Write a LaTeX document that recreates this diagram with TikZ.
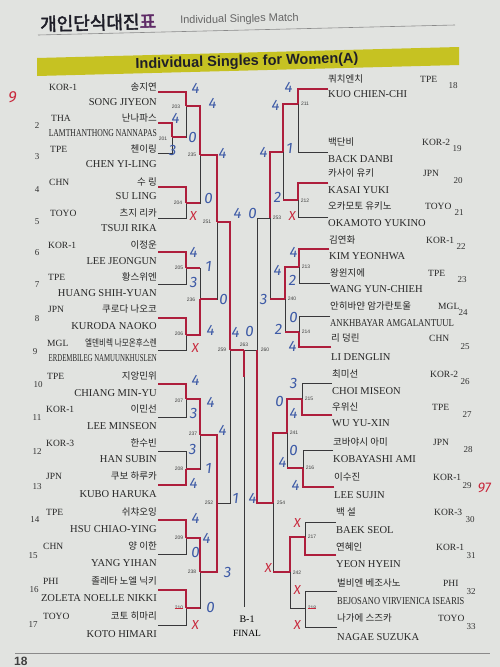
\documentclass[tikz,border=0pt]{standalone}
\usepackage{fontspec}
\setmainfont{Liberation Serif}
\newfontfamily\kr{Noto Sans CJK KR}
\newfontfamily\krb[FakeBold=2.5]{Noto Sans CJK KR}
\newfontfamily\hv{Liberation Sans}
\newfontfamily\hand[FakeSlant=0.12]{Fira Sans}
\definecolor{paper}{HTML}{E1E3E0}
\definecolor{lineblk}{HTML}{38383A}
\definecolor{redline}{HTML}{AE1E3C}
\definecolor{penblue}{HTML}{3D5AA6}
\definecolor{penred}{HTML}{C8283C}
\definecolor{labgray}{HTML}{404040}
\definecolor{barcol}{HTML}{C6C222}
\definecolor{titlecol}{HTML}{1E1E28}
\definecolor{titlepurple}{HTML}{5E2A66}
\definecolor{rulegray}{HTML}{8A8A8A}
\tikzset{
  bl/.style={draw=lineblk, line width=0.7pt},
  rd/.style={draw=redline, line width=1.7pt},
  kname/.style={font=\kr\fontsize{9.5}{10}\selectfont, inner sep=0, text=black!85},
  ename/.style={font=\fontsize{10.5}{11}\selectfont, inner sep=0, text=black!85},
  ctry/.style={font=\fontsize{9.5}{10}\selectfont, inner sep=0, anchor=west, text=black!85},
  seed/.style={font=\fontsize{9}{10}\selectfont, inner sep=0, text=black!80},
  mno/.style={font=\hv\fontsize{5}{5}\selectfont, inner sep=0, text=labgray},
  hw/.style={font=\hand\fontsize{15}{15}\selectfont, text=penblue, inner sep=0},
  hx/.style={font=\hand\fontsize{13}{13}\selectfont, text=penred, inner sep=0},
}
\begin{document}
\begin{tikzpicture}[x=1pt,y=-1pt]
\useasboundingbox (0,0) rectangle (500,667);
\clip (0,0) rectangle (500,667);
\fill[paper] (0,0) rectangle (500,667);

% ---------- header ----------
\node[font=\krb\fontsize{18}{18}\selectfont, text=titlecol, anchor=west, inner sep=0, rotate=1.4] (hk) at (40,24) {개인단식대진\textcolor{titlepurple}{표}};
\node[font=\hv\fontsize{11}{11}\selectfont, text=black!60, anchor=west, inner sep=0, rotate=1.4] (he) at (180,21) {Individual Singles Match};
\draw[rulegray, line width=0.6pt] (38,35) -- (455,25);
\fill[barcol] (37,58) -- (459,47) -- (459,65) -- (37,76) -- cycle;
\node[font=\hv\bfseries\fontsize{14.5}{15}\selectfont, text=titlecol, rotate=1.5, inner sep=0] (tt) at (247,62) {Individual Singles for Women(A)};

% ---------- left players ----------
\foreach \i/\ky/\ey/\ly/\xc/\co/\kn/\engn/\ks/\es in {
1/87/102/92/49/KOR-1/송지연/SONG JIYEON/1/1,
2/118/133/123/51/THA/난나파스/LAMTHANTHONG NANNAPAS/1/.73,
3/149/164/153/50/TPE/첸이링/CHEN YI-LING/1/1,
4/182/196/187/49/CHN/수 링/SU LING/1/1,
5/213/228/218/50/TOYO/츠지 리카/TSUJI RIKA/1/1,
6/245/261/252/48/KOR-1/이정운/LEE JEONGUN/1/1,
7/277/293/284/48/TPE/황스위엔/HUANG SHIH-YUAN/1/1,
8/309/326/318/48/JPN/쿠로다 나오코/KURODA NAOKO/1/1,
9/343/358/350/47/MGL/엘덴비렉 나모온후스렌/ERDEMBILEG NAMUUNKHUSLEN/.8/.65,
10/376/393/384/47/TPE/지앙민위/CHIANG MIN-YU/1/1,
11/409/426/417/46/KOR-1/이민선/LEE MINSEON/1/1,
12/443/459/451/46/KOR-3/한수빈/HAN SUBIN/1/1,
13/476/494/485/46/JPN/쿠보 하루카/KUBO HARUKA/1/1,
14/512/529/520/46/TPE/쉬챠오잉/HSU CHIAO-YING/1/1,
15/546/563/554/43/CHN/양 이한/YANG YIHAN/1/1,
16/581/598/590/43/PHI/졸레타 노엘 닉키/ZOLETA NOELLE NIKKI/1/1,
17/616/634/625/43/TOYO/코토 히마리/KOTO HIMARI/1/1}{
  \node[kname, anchor=east, xscale=\ks, transform shape] (k\i) at (157,\ky) {\kn};
  \node[ename, anchor=east, xscale=\es, transform shape] (e\i) at (157,\ey) {\engn};
  \node[ctry] (c\i) at (\xc,\ky) {\co};
  \coordinate (p\i) at (158,\ly);
}
\foreach \i/\x/\y in {2/37/126,3/37/157,4/37/190,5/37/222,6/37/253,7/37/285,8/37/319,9/35/352,10/38/385,11/37/418,12/37/452,13/37/487,14/35/520,15/33/556,16/34/590,17/33/625}
  \node[seed] (s\i) at (\x,\y) {\i};

% ---------- right players ----------
\foreach \i/\ky/\ey/\ly/\xr/\xc/\co/\kn/\engn/\es in {
18/79/94/89/328/420/TPE/쿼치엔치/KUO CHIEN-CHI/1,
19/142/159/152/328/422/KOR-2/백단비/BACK DANBI/1,
20/173/190/183/328/423/JPN/카사이 유키/KASAI YUKI/1,
21/206/223/217/328/425/TOYO/오카모토 유키노/OKAMOTO YUKINO/1,
22/240/256/249/329/426/KOR-1/김연화/KIM YEONHWA/1,
23/273/289/283/330/428/TPE/왕윈지에/WANG YUN-CHIEH/1,
24/306/323/316/330/438/MGL/안히바얀 암가란토울/ANKHBAYAR AMGALANTUUL/.83,
25/338/357/347/331/429/CHN/리 덩린/LI DENGLIN/1,
26/374/391/383/332/430/KOR-2/최미선/CHOI MISEON/1,
27/407/423/415/332/432/TPE/우위신/WU YU-XIN/1,
28/442/459/450/333/433/JPN/코바야시 아미/KOBAYASHI AMI/1,
29/477/495/487/334/433/KOR-1/이수진/LEE SUJIN/1,
30/512/530/522/336/434/KOR-3/백 설/BAEK SEOL/1,
31/547/564/555/336/436/KOR-1/연혜인/YEON HYEIN/1,
32/583/601/591/337/443/PHI/벌비엔 베조사노/BEJOSANO VIRVIENICA ISEARIS/.8,
33/618/637/627/337/438/TOYO/나가에 스즈카/NAGAE SUZUKA/1}{
  \node[kname, anchor=west] (k\i) at (\xr,\ky) {\kn};
  \node[ename, anchor=west, xscale=\es, transform shape] (e\i) at (\xr,\ey) {\engn};
  \node[ctry] (c\i) at (\xc,\ky) {\co};
  \coordinate (p\i) at (\xr,\ly);
}
\foreach \i/\x/\y in {18/453/86,19/457/149,20/458/181,21/459/213,22/461/247,23/462/280,24/463/313,25/465/347,26/465/382,27/467/415,28/468/450,29/467/486,30/470/520,31/471/556,32/471/592,33/471/627}
  \node[seed] (s\i) at (\x,\y) {\i};

% ---------- match junctions ----------
\foreach \n/\x/\y in {201/172/137,203/186/106,204/186/203,205/186/268,206/186/335,207/186/399,208/186/469,209/186/538,210/186/608,
  235/200/155,236/200/299,237/200/435,238/200/572,251/217/222,252/217/503,259/230/350,263/244/350,
  211/298/104,212/298/200,213/299/267,214/299/332,215/302/399,216/303/468,217/305/537,218/305/608,
  239/283/152,240/285/299,241/287/433,242/290/572,253/270/218,254/273/503,260/257/350}
  \coordinate (m\n) at (\x,\y);
\coordinate (fin) at (244,607);
\coordinate (fred) at (244,377);

% black bracket
\foreach \c/\m in {p1/m203,p2/m201,p3/m201,p4/m204,p5/m204,p6/m205,p7/m205,p8/m206,p9/m206,
  p10/m207,p11/m207,p12/m208,p13/m208,p14/m209,p15/m209,p16/m210,p17/m210,
  m201/m203,m203/m235,m204/m235,m205/m236,m206/m236,m207/m237,m208/m237,m209/m238,m210/m238,
  m235/m251,m236/m251,m237/m252,m238/m252,m251/m259,m252/m259,m259/m263,
  p18/m211,p19/m211,p20/m212,p21/m212,p22/m213,p23/m213,p24/m214,p25/m214,
  p26/m215,p27/m215,p28/m216,p29/m216,p30/m217,p31/m217,p32/m218,p33/m218,
  m211/m239,m212/m239,m213/m240,m214/m240,m215/m241,m216/m241,m217/m242,m218/m242,
  m239/m253,m240/m253,m241/m254,m242/m254,m253/m260,m254/m260,m260/m263}
  \draw[bl] (\c) -| (\m);
\draw[bl] (m263) -- (fin);

% red winner paths (full arms)
\foreach \c/\m in {p1/m203,m203/m235,m235/m251,m251/m259,m259/m263,
  p2/m201,p4/m204,p6/m205,p8/m206,m206/m236,p10/m207,m207/m237,m237/m252,
  p13/m208,p14/m209,m209/m238,m238/m252,p16/m210,
  p18/m211,m211/m239,m239/m253,p20/m212,p22/m213,m213/m240,p25/m214,
  p27/m215,m215/m241,m241/m254,m254/m260,p29/m216,p31/m217,m217/m242}
  \draw[rd] (\c) -| (\m);
% red horizontal stubs only
\foreach \c/\m in {m201/m203,m204/m235,m205/m236,m236/m251,m208/m237,m210/m238,
  m212/m239,m240/m253,m214/m240,m216/m241,m242/m254}
  \draw[rd] (\c) -- (\c -| \m);
\draw[rd] (m263) -- (fred);

% match numbers
\foreach \t/\x/\y in {203/176/107,201/163/139,204/178/203,235/192/155,251/207/222,205/179/268,236/191/300,206/179/334,
  259/222/350,207/179/401,237/193/434,208/179/469,252/209/503,209/179/538,238/192/572,210/179/608,
  211/305/104,212/305/201,253/277/218,213/306/267,240/292/299,214/306/332,263/244/345,260/265/350,
  215/309/399,241/294/433,216/310/468,254/281/503,217/312/537,242/297/573,218/312/608}
  \node[mno] (n\t) at (\x,\y) {\t};
\draw[penred, line width=0.6pt] (n210.west) -- (n210.east);
\draw[penred, line width=0.6pt] (n218.west) -- (n218.east);

% final label
\node[font=\fontsize{10}{11}\selectfont, inner sep=0] (b1) at (247,619) {B-1};
\node[font=\fontsize{9.5}{10}\selectfont, inner sep=0] (fl) at (247,633) {FINAL};

% handwritten scores (blue)
\foreach \x/\y/\t [count=\j] in {195/88/4,212/103/4,175/118/4,192/137/0,172/150/3,222/153/4,208/198/0,237/213/4,
  193/252/4,208/266/1,193/282/3,223/299/0,210/330/4,235/332/4,249/331/0,
  195/380/4,210/402/4,193/413/3,222/430/4,192/449/3,208/468/1,193/483/4,235/498/1,
  195/518/4,206/538/4,195/552/0,227/572/3,210/607/0,
  288/87/4,275/105/4,289/148/1,263/152/4,277/197/2,252/213/0,
  293/252/4,277/270/4,292/280/2,263/299/3,293/317/0,278/329/2,292/346/4,
  293/383/3,279/401/0,293/413/4,293/450/0,282/462/4,295/485/4,252/498/4}
  \node[hw] (h\j) at (\x,\y) {\t};
% handwritten marks (red)
\foreach \x/\y [count=\j] in {193/216,195/348,195/625,292/216,297/523,297/590,297/625,268/568}
  \node[hx] (x\j) at (\x,\y) {X};
\node[font=\hand\fontsize{16}{16}\selectfont, text=penred, inner sep=0] (r9) at (12,97) {9};
\node[font=\hand\fontsize{14}{14}\selectfont, text=penred, inner sep=0] (r97) at (484,488) {97};

% bottom
\draw[rulegray, line width=0.8pt] (15,653) -- (490,653);
\node[font=\hv\bfseries\fontsize{12}{12}\selectfont, text=black!75, anchor=west, inner sep=0] (pg) at (14,661) {18};
\end{tikzpicture}
\end{document}
